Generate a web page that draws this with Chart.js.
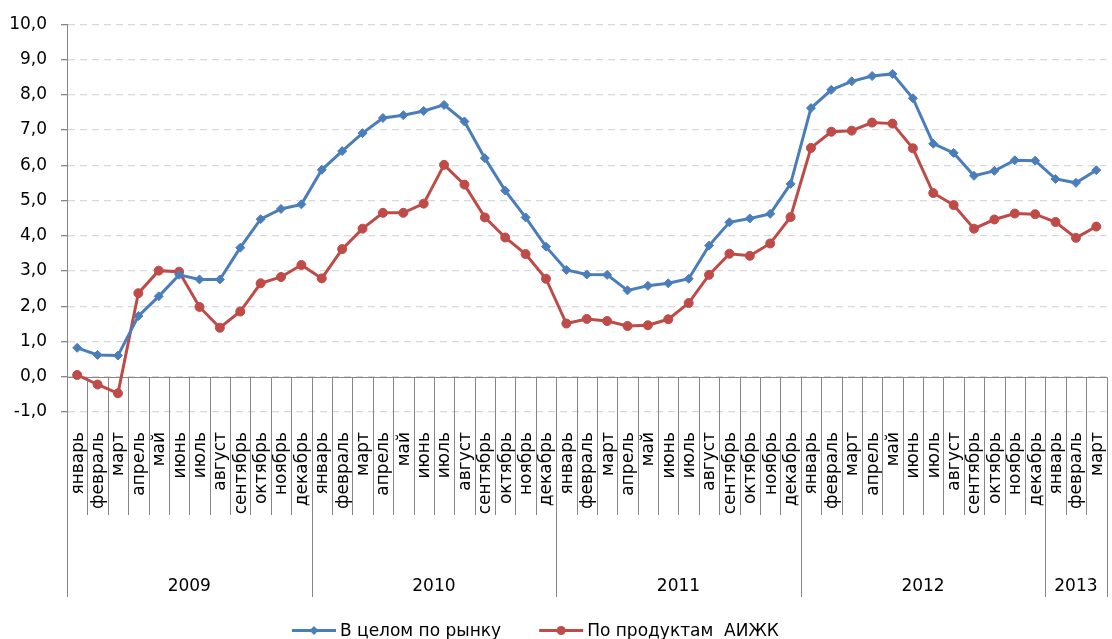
<!DOCTYPE html>
<html lang="ru">
<head>
<meta charset="utf-8">
<title>Ставки по ипотечным кредитам</title>
<script src="https://cdn.jsdelivr.net/npm/chart.js@4.4.1/dist/chart.umd.min.js"></script>
<style>
  html, body { margin: 0; padding: 0; background: #fff; }
  #wrap { width: 1112px; height: 639px; }
</style>
</head>
<body>
<div id="wrap"><canvas id="c" width="1112" height="639"></canvas></div>
<script>
// Month names, year groups and how many months each year covers
const monthNames = ['январь','февраль','март','апрель','май','июнь','июль','август','сентябрь','октябрь','ноябрь','декабрь'];
const years = ['2009', '2010', '2011', '2012', '2013'];
const monthsPerYear = [12, 12, 12, 12, 3];
const categories = years.flatMap((y, i) => monthNames.slice(0, monthsPerYear[i]));

// Series values, %
const marketValues = [
  0.82, 0.62, 0.60, 1.72, 2.28, 2.89, 2.76, 2.76, 3.66, 4.47, 4.76, 4.89,
  5.87, 6.40, 6.91, 7.34, 7.42, 7.54, 7.71, 7.24, 6.20, 5.28, 4.52, 3.69,
  3.03, 2.90, 2.89, 2.45, 2.58, 2.65, 2.78, 3.72, 4.38, 4.49, 4.62, 5.47,
  7.62, 8.14, 8.38, 8.53, 8.59, 7.90, 6.61, 6.35, 5.70, 5.84, 6.14, 6.13,
  5.61, 5.50, 5.86
];
const aizhkValues = [
  0.05, -0.22, -0.47, 2.37, 3.01, 2.98, 1.98, 1.39, 1.85, 2.65, 2.83, 3.17,
  2.79, 3.62, 4.20, 4.65, 4.65, 4.91, 6.01, 5.45, 4.52, 3.95, 3.48, 2.78,
  1.51, 1.64, 1.58, 1.44, 1.46, 1.63, 2.09, 2.89, 3.49, 3.43, 3.78, 4.53,
  6.49, 6.95, 6.98, 7.21, 7.18, 6.48, 5.21, 4.87, 4.20, 4.46, 4.63, 4.61,
  4.39, 3.94, 4.26
];
const seriesNames = ['В целом по рынку', 'По продуктам  АИЖК'];

// Value axis range
const yMin = -1, yMax = 10, yStep = 1;

const AXIS_COLOR = '#868686';
const FONT = 'DejaVu Sans';

// Two-level category axis (months + years) drawn from the x scale
const categoryAxis = {
  id: 'categoryAxis',
  beforeDatasetsDraw(chart) {
    const { ctx, scales: { x, y } } = chart;
    const n = chart.data.labels.length;
    const step = x.getPixelForValue(1) - x.getPixelForValue(0);
    const edge = i => Math.round(x.getPixelForValue(i) - step / 2) + 0.5;
    const y0 = Math.round(y.getPixelForValue(0)) + 0.5;

    ctx.save();
    ctx.strokeStyle = AXIS_COLOR;
    ctx.lineWidth = 1;

    // axis line at zero
    ctx.beginPath();
    ctx.moveTo(edge(0), y0);
    ctx.lineTo(edge(n), y0);
    ctx.stroke();

    // year boundaries
    const yearEdges = [0];
    monthsPerYear.forEach(m => yearEdges.push(yearEdges[yearEdges.length - 1] + m));

    // separators between months / years
    ctx.beginPath();
    for (let i = 0; i <= n; i++) {
      const bottom = yearEdges.includes(i) ? 597 : 515;
      ctx.moveTo(edge(i), y0);
      ctx.lineTo(edge(i), bottom);
    }
    ctx.stroke();

    // month labels, rotated
    ctx.fillStyle = '#000';
    ctx.font = `17px "${FONT}"`;
    ctx.textAlign = 'right';
    ctx.textBaseline = 'middle';
    chart.data.labels.forEach((lab, i) => {
      ctx.save();
      ctx.translate(x.getPixelForValue(i) + 1, 432);
      ctx.rotate(-Math.PI / 2);
      ctx.fillText(lab, 0, 0);
      ctx.restore();
    });

    // year labels
    ctx.textAlign = 'center';
    years.forEach((yr, k) => {
      const cx = (x.getPixelForValue(yearEdges[k]) + x.getPixelForValue(yearEdges[k + 1])) / 2 - step / 2;
      ctx.fillText(yr, cx, 587);
    });
    ctx.restore();
  },
  afterDraw(chart) {
    // legend: line with marker, then name
    const { ctx } = chart;
    let px = 292;
    const ly = 630.5;
    ctx.save();
    ctx.font = `17px "${FONT}"`;
    ctx.textAlign = 'left';
    ctx.textBaseline = 'alphabetic';
    chart.data.datasets.forEach(ds => {
      ctx.strokeStyle = ds.borderColor;
      ctx.lineWidth = 3;
      ctx.beginPath();
      ctx.moveTo(px, ly);
      ctx.lineTo(px + 44, ly);
      ctx.stroke();
      ctx.fillStyle = ds.borderColor;
      ctx.beginPath();
      if (ds.pointStyle === 'rectRot') {
        const r = 4.5;
        ctx.moveTo(px + 22, ly - r);
        ctx.lineTo(px + 22 + r, ly);
        ctx.lineTo(px + 22, ly + r);
        ctx.lineTo(px + 22 - r, ly);
        ctx.closePath();
      } else {
        ctx.arc(px + 22, ly, 4.5, 0, Math.PI * 2);
      }
      ctx.fill();
      ctx.fillStyle = '#000';
      ctx.fillText(ds.label, px + 48, 636);
      px += 48 + ctx.measureText(ds.label).width + 38;
    });
    ctx.restore();
  }
};

new Chart(document.getElementById('c'), {
  type: 'line',
  data: {
    labels: categories,
    datasets: [
      {
        label: seriesNames[0],
        data: marketValues,
        borderColor: '#4A7EBB',
        backgroundColor: '#4A7EBB',
        borderWidth: 3,
        pointStyle: 'rectRot',
        pointRadius: 4.5,
        pointBorderWidth: 1,
        tension: 0
      },
      {
        label: seriesNames[1],
        data: aizhkValues,
        borderColor: '#BE4B48',
        backgroundColor: '#BE4B48',
        borderWidth: 3,
        pointStyle: 'circle',
        pointRadius: 4.5,
        pointBorderWidth: 1,
        tension: 0
      }
    ]
  },
  options: {
    responsive: false,
    animation: false,
    devicePixelRatio: 1,
    layout: { padding: { top: 24, right: 4, bottom: 227, left: 0 } },
    plugins: {
      legend: { display: false },
      tooltip: { enabled: false }
    },
    scales: {
      x: {
        type: 'category',
        offset: true,
        display: false
      },
      y: {
        min: yMin,
        max: yMax,
        ticks: {
          stepSize: yStep,
          padding: 14,
          color: '#000',
          font: { family: FONT, size: 17 },
          callback: v => v.toFixed(1).replace('.', ',')
        },
        grid: {
          color: '#D9D9D9',
          lineWidth: 1.3,
          tickLength: 6,
          tickColor: AXIS_COLOR,
          drawTicks: true
        },
        border: { display: true, color: AXIS_COLOR, width: 1, dash: [7, 5] },
        afterFit(scale) { scale.width = 67; }
      }
    }
  },
  plugins: [categoryAxis]
});
</script>
</body>
</html>
